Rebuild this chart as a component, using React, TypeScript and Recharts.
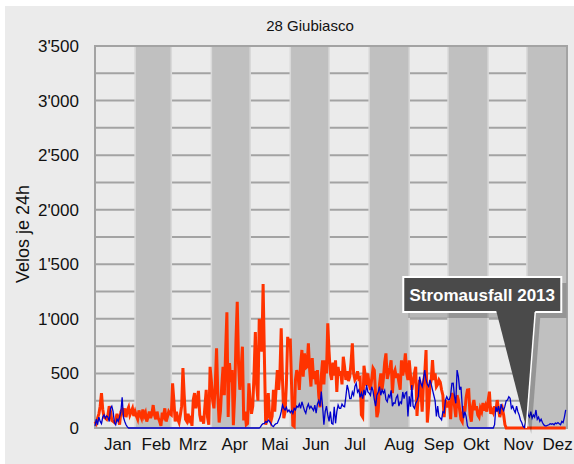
import React from 'react';
import {
  LineChart,
  Line,
  XAxis,
  YAxis,
  CartesianGrid,
  ReferenceArea,
  ReferenceDot,
  Customized,
} from 'recharts';

const TITLE = '28 Giubiasco';
const Y_LABEL = 'Velos je 24h';
const ANNOTATION = 'Stromausfall 2013';

const MONTHS = ['Jan', 'Feb', 'Mrz', 'Apr', 'Mai', 'Jun', 'Jul', 'Aug', 'Sep', 'Okt', 'Nov', 'Dez'];
const MONTH_DAYS = [31, 28, 31, 30, 31, 30, 31, 31, 30, 31, 30, 31];
// day positions where the month labels sit on the axis
const MONTH_LABEL_DAYS = [17.6, 47.3, 75.8, 108.0, 139.1, 170.8, 201.2, 235.3, 266.0, 294.8, 327.4, 357.7];
const SHADED_MONTHS = [1, 3, 5, 7, 9, 11];
const Y_MAX = 3500;
const Y_TICKS = [0, 500, 1000, 1500, 2000, 2500, 3000, 3500];
const GRID_VALUES = [250, 500, 750, 1000, 1250, 1500, 1750, 2000, 2250, 2500, 2750, 3000, 3250, 3500];
const OUTAGE_DAY = 333.5;

// Series 2013 (red) - daily counts per month
const red2013Jan = [60, 40, 90, 130, 200, 320, 170, 100, 90, 80, 120, 200, 150, 70, 60, 50, 70, 130, 90, 30, 150, 170, 130, 180, 100, 160, 190, 120, 150, 180, 110];
const red2013Feb = [150, 110, 80, 160, 120, 90, 170, 110, 140, 60, 100, 150, 90, 130, 210, 120, 80, 150, 90, 60, 20, 140, 110, 180, 60, 100, 150, 130];
const red2013Mar = [120, 410, 250, 60, 150, 80, 50, 120, 200, 550, 300, 80, 60, 130, 70, 90, 20, 260, 320, 180, 250, 340, 120, 60, 110, 40, 200, 350, 100, 30, 560];
const red2013Apr = [430, 250, 180, 400, 730, 300, 50, 150, 380, 560, 300, 700, 1060, 100, 595, 420, 530, 25, 300, 800, 1157, 590, 350, 540, 745, 70, 150, 30, 40, 410];
const red2013May = [250, 130, 200, 500, 880, 400, 250, 1000, 900, 700, 1320, 650, 30, 110, 320, 100, 60, 110, 350, 150, 350, 530, 350, 500, 913, 440, 90, 150, 400, 835, 745];
const red2013Jun = [820, 400, 25, 15, 440, 530, 480, 350, 580, 715, 470, 684, 550, 560, 775, 530, 380, 640, 450, 520, 400, 530, 300, 190, 480, 620, 400, 620, 500, 960];
const red2013Jul = [700, 500, 440, 600, 480, 620, 330, 560, 480, 520, 400, 653, 560, 440, 520, 430, 470, 600, 775, 500, 440, 460, 520, 450, 460, 120, 100, 570, 480, 390, 500];
const red2013Aug = [400, 350, 450, 550, 530, 300, 100, 150, 400, 500, 350, 450, 600, 684, 450, 500, 550, 620, 320, 500, 530, 460, 500, 420, 350, 620, 480, 550, 684, 500, 440];
const red2013Sep = [620, 480, 350, 420, 500, 560, 110, 300, 440, 350, 150, 400, 500, 714, 50, 200, 380, 440, 623, 440, 500, 380, 400, 440, 420, 350, 300, 100, 256, 200];
const red2013Oct = [200, 250, 80, 320, 290, 200, 100, 300, 256, 165, 80, 58, 200, 150, 280, 348, 350, 120, 58, 200, 256, 165, 200, 120, 100, 180, 150, 230, 160, 200, 150];
const red2013Nov = [250, 333, 130, 165, 140, 200, 150, 256, 180, 100, 150, 180, 120, 30, 0, 0, 0, 0, 0, 0, 0, 0, 0, 0, 0, 0, 0, 0, 0, 0];
const red2013Dec = [0, 0, 0, 0, 0, 0, 0, 0, 0, 0, 0, 0, 0, 0, 0, 0, 0, 0, 0, 0, 0, 0, 0, 0, 0, 0, 0, 0, 0, 0, 0];

// Series 2014 (blue) - daily counts per month
const blue2014Jan = [20, 80, 30, 100, 60, 40, 100, 120, 90, 110, 100, 60, 180, 200, 150, 50, 30, 80, 60, 100, 150, 281, 100, 60, 30, 10, 0, 0, 0, 0, 0];
const blue2014Feb = [0, 0, 0, 0, 0, 0, 0, 0, 0, 0, 0, 0, 0, 0, 0, 0, 0, 0, 0, 0, 0, 0, 0, 0, 0, 0, 0, 0];
const blue2014Mar = [0, 0, 0, 0, 0, 0, 0, 0, 0, 0, 0, 0, 0, 0, 0, 0, 0, 0, 0, 0, 0, 0, 0, 0, 0, 0, 0, 0, 0, 0, 0];
const blue2014Apr = [0, 0, 0, 0, 0, 0, 0, 0, 0, 0, 0, 0, 0, 0, 0, 0, 0, 0, 0, 0, 0, 0, 0, 0, 0, 0, 0, 0, 0, 0];
const blue2014May = [0, 0, 0, 0, 0, 0, 0, 0, 10, 30, 40, 43, 60, 50, 73, 60, 40, 20, 12, 30, 40, 43, 73, 100, 150, 210, 180, 165, 190, 150, 165];
const blue2014Jun = [140, 160, 135, 180, 165, 200, 190, 220, 180, 240, 200, 160, 135, 190, 220, 180, 200, 180, 160, 210, 135, 220, 250, 200, 333, 200, 30, 150, 200, 120];
const blue2014Jul = [60, 150, 43, 35, 195, 43, 150, 210, 180, 180, 220, 200, 195, 287, 394, 348, 270, 270, 330, 300, 380, 410, 330, 350, 280, 320, 270, 350, 300, 394, 330];
const blue2014Aug = [320, 300, 378, 340, 260, 200, 300, 330, 380, 300, 350, 320, 345, 260, 240, 300, 280, 345, 200, 230, 226, 280, 300, 200, 240, 226, 330, 270, 320, 330, 105];
const blue2014Sep = [290, 195, 394, 200, 180, 226, 250, 290, 470, 410, 380, 450, 531, 440, 400, 380, 440, 400, 350, 300, 250, 105, 200, 105, 90, 75, 150, 140, 256, 287];
const blue2014Oct = [260, 260, 300, 409, 410, 290, 226, 531, 470, 350, 378, 200, 90, 150, 105, 20, 0, 0, 0, 0, 0, 0, 0, 0, 0, 0, 0, 0, 0, 0, 0];
const blue2014Nov = [0, 0, 0, 0, 0, 30, 195, 150, 200, 130, 220, 180, 160, 200, 250, 256, 287, 272, 180, 200, 165, 140, 200, 150, 120, 73, 50, 15, 5, 60];
const blue2014Dec = [195, 120, 100, 150, 90, 120, 100, 165, 80, 100, 60, 80, 50, 30, 20, 20, 25, 30, 40, 35, 40, 30, 45, 40, 50, 40, 30, 60, 50, 100, 165];

const RED_MONTHS = [red2013Jan, red2013Feb, red2013Mar, red2013Apr, red2013May, red2013Jun, red2013Jul, red2013Aug, red2013Sep, red2013Oct, red2013Nov, red2013Dec];
const BLUE_MONTHS = [blue2014Jan, blue2014Feb, blue2014Mar, blue2014Apr, blue2014May, blue2014Jun, blue2014Jul, blue2014Aug, blue2014Sep, blue2014Oct, blue2014Nov, blue2014Dec];

const MONTH_STARTS: number[] = [];
MONTH_DAYS.forEach((d, i) => {
  MONTH_STARTS.push(i === 0 ? 0 : MONTH_STARTS[i - 1] + MONTH_DAYS[i - 1]);
});
const YEAR_DAYS = MONTH_STARTS[11] + MONTH_DAYS[11];

const data: { day: number; s2013: number; s2014: number }[] = [];
MONTH_DAYS.forEach((len, m) => {
  for (let i = 0; i < len; i++) {
    data.push({ day: MONTH_STARTS[m] + i, s2013: RED_MONTHS[m][i], s2014: BLUE_MONTHS[m][i] });
  }
});

const FONT = '"Liberation Sans", Arial, Helvetica, sans-serif';

const fmtY = (v: number) => {
  if (v >= 1000) {
    const th = Math.floor(v / 1000);
    const rest = String(v % 1000).padStart(3, '0');
    return `${th}'${rest}`;
  }
  return String(v);
};

const fmtX = (v: number) => {
  const idx = MONTH_LABEL_DAYS.findIndex((m) => Math.abs(m - v) < 0.01);
  return idx >= 0 ? MONTHS[idx] : '';
};

const Callout = (props: any) => {
  const { cx, cy } = props;
  if (cx == null || cy == null) return null;
  const bx = cx - 123;
  const by = cy - 151;
  const bw = 158;
  const bh = 35;
  const tri = `M${cx - 30},${by + bh - 1} L${cx + 9},${by + bh - 1} L${cx},${cy} Z`;
  return (
    <g>
      <g transform="translate(5,6)" opacity={0.22}>
        <rect x={bx} y={by} width={bw} height={bh} fill="#000" />
        <path d={tri} fill="#000" />
      </g>
      <rect x={bx} y={by} width={bw} height={bh} fill="#4a4a4a" stroke="#ffffff" strokeWidth={2} />
      <path d={tri} fill="#4a4a4a" />
      <line x1={cx + 9} y1={by + bh} x2={cx} y2={cy} stroke="#ffffff" strokeWidth={1.5} />
      <text
        x={bx + bw / 2}
        y={by + bh / 2 + 1}
        textAnchor="middle"
        dominantBaseline="central"
        fill="#ffffff"
        fontWeight="bold"
        fontSize={17}
        fontFamily={FONT}
      >
        {ANNOTATION}
      </text>
    </g>
  );
};

const Texts = () => (
  <g>
    <text x={305} y={25} textAnchor="middle" fontSize={15} fill="#111" fontFamily={FONT}>
      {TITLE}
    </text>
    <text
      x={18}
      y={228}
      transform="rotate(-90, 18, 228)"
      textAnchor="middle"
      dominantBaseline="central"
      fontSize={18}
      fill="#111"
      fontFamily={FONT}
    >
      {Y_LABEL}
    </text>
  </g>
);

export default function App() {
  return (
    <div style={{ position: 'fixed', left: 0, top: 0, width: 574, height: 464, background: '#ffffff' }}>
      <div style={{ position: 'absolute', left: 5, top: 6, width: 569, height: 458, background: '#ebebeb' }}>
        <LineChart
          width={569}
          height={458}
          data={data}
          margin={{ top: 40, right: 7, bottom: 6, left: 0 }}
          style={{ fontFamily: FONT, overflow: 'visible' }}
        >
          <CartesianGrid
            vertical={false}
            stroke="#a3a3a3"
            strokeWidth={2}
            horizontalCoordinatesGenerator={(args: any) => {
              const off = args.offset || {};
              const top = off.top ?? 40;
              const h = off.height ?? 382;
              return GRID_VALUES.map((v) => top + h * (1 - v / Y_MAX));
            }}
          />
          {SHADED_MONTHS.map((m) => (
            <ReferenceArea
              key={m}
              x1={MONTH_STARTS[m]}
              x2={MONTH_STARTS[m] + MONTH_DAYS[m]}
              y1={0}
              y2={Y_MAX}
              fill="#c0c0c0"
              fillOpacity={1}
              stroke="#d9d9d9"
              strokeWidth={1.5}
            />
          ))}
          <ReferenceArea
            x1={0}
            x2={YEAR_DAYS}
            y1={0}
            y2={Y_MAX}
            fill="none"
            fillOpacity={0}
            stroke="#a3a3a3"
            strokeWidth={2}
          />
          <XAxis
            type="number"
            dataKey="day"
            domain={[0, YEAR_DAYS]}
            ticks={MONTH_LABEL_DAYS}
            tickFormatter={fmtX}
            interval={0}
            axisLine={false}
            tickLine={false}
            tickSize={6}
            tickMargin={4}
            height={30}
            tick={{ fill: '#111', fontSize: 17 }}
          />
          <YAxis
            type="number"
            domain={[0, Y_MAX]}
            ticks={Y_TICKS}
            tickFormatter={fmtY}
            interval={0}
            axisLine={false}
            tickLine={false}
            tickSize={6}
            tickMargin={10}
            width={90}
            tick={{ fill: '#111', fontSize: 17 }}
          />
          <Line
            type="linear"
            dataKey="s2013"
            stroke="#ff3300"
            strokeWidth={3}
            dot={false}
            activeDot={false}
            isAnimationActive={false}
          />
          <Line
            type="linear"
            dataKey="s2014"
            stroke="#0000cc"
            strokeWidth={1.3}
            dot={false}
            activeDot={false}
            isAnimationActive={false}
          />
          <ReferenceDot x={OUTAGE_DAY} y={0} r={0} shape={(p: any) => <Callout {...p} />} ifOverflow="visible" />
          <Customized component={Texts} />
        </LineChart>
      </div>
    </div>
  );
}
